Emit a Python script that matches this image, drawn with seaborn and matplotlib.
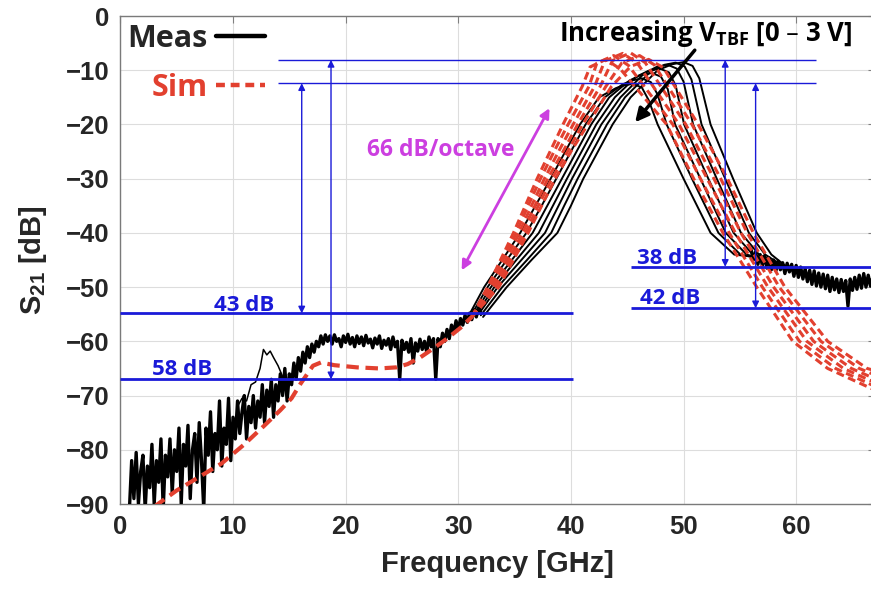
import numpy as np
import pandas as pd
import matplotlib
matplotlib.use("Agg")
import matplotlib.pyplot as plt
import seaborn as sns
from matplotlib.lines import Line2D

# ---------------- data ----------------
# shared noisy measured band, 0.8 .. 32 GHz every 0.2 GHz
meas_low_freq = np.round(np.arange(0.8, 32.01, 0.2), 2)
meas_low_db = [
    -91, -82, -89, -80.5, -90, -84, -81, -91, -83, -87,
    -79, -90, -82, -86, -78, -91, -81, -85, -78, -88,
    -80, -84, -76, -90, -79, -83, -75.5, -89, -80, -77,
    -86, -75, -82, -91, -76, -81, -73, -84, -77, -80,
    -71, -83, -76, -79, -70.5, -82, -74, -78, -71, -77,
    -73, -70, -78, -72, -75, -70, -76, -71, -74, -68,
    -75, -69, -72, -67, -74, -68, -71, -66, -70, -65,
    -71, -66, -68, -64, -67, -63, -65.5, -62, -64, -61,
    -63, -60.5, -62, -60, -61, -59, -60.5, -58.8, -60, -59,
    -60.5, -58.8, -60, -59.5, -61, -59, -60.2, -58.7, -60.5, -59.3,
    -61, -59, -60.4, -59.2, -60.8, -58.9, -60.3, -59.6, -61.2, -59.4,
    -60.5, -59, -61.3, -59.8, -60.7, -59.5, -61.5, -59.2, -61, -60,
    -67, -59.8, -61.5, -60.2, -62, -59.5, -64, -60.3, -61.8, -59.6,
    -61.5, -60, -62, -59.2, -61, -59.5, -67, -59.5, -61, -58.5,
    -60, -57.8, -59.5, -57, -58.5, -56.2, -57.8, -55.8, -57, -55.2,
    -56.5, -54.8, -56, -54.2, -55.5, -53.8, -54.8,
]
# one measured trace with a bump near 13 GHz
bump_freq = [10.4, 10.8, 11.2, 11.6, 12.0, 12.4, 12.7, 13.0, 13.3, 13.6, 14.0, 14.4, 14.8, 15.2]
bump_db = [-72, -70.5, -71, -68, -67.5, -65, -61.5, -62.5, -61.8, -63, -64.5, -66.5, -68.5, -66]

# shared noisy measured tail, 56 .. 67 GHz every 0.2 GHz
meas_tail_freq = np.round(np.arange(56.0, 67.01, 0.2), 2)
meas_tail_db = [
    -43, -45, -43.5, -45.8, -44, -46, -44.2, -46.5, -44.6, -46.8,
    -45, -47, -45.2, -46.8, -45.5, -47.5, -45.6, -47.2, -45.8, -48,
    -46, -48.2, -46.3, -48.5, -46.6, -49, -46.9, -49.5, -47, -49.8,
    -47.4, -50, -47.6, -50.3, -47.8, -50.8, -48.2, -50.5, -48.5, -51,
    -48.6, -50.8, -48.8, -53.5, -48.5, -50.6, -48.2, -50.4, -47.8, -50.2,
    -47.5, -50, -47.8, -49.8, -48, -50,
]

# measured curves (V_TBF 0 .. 3 V), band-pass region
meas_freq = [
    [32.2, 34.3, 36.5, 38.8, 40.0, 41.1, 42.4, 43.7, 45.3, 47.7, 49.0, 50.0, 50.8, 51.4, 52.4, 54.4, 56.5, 57.8, 59.0],
    [32.0, 33.9, 36.1, 38.25, 39.4, 40.6, 41.9, 43.2, 44.8, 47.1, 48.3, 49.3, 50.1, 50.7, 51.6, 53.7, 55.8, 57.25, 58.6],
    [31.8, 33.5, 35.6, 37.7, 38.9, 40.1, 41.4, 42.7, 44.4, 46.5, 47.6, 48.6, 49.4, 50.0, 50.85, 52.95, 55.1, 56.7, 58.2],
    [31.6, 33.2, 35.15, 37.15, 38.4, 39.65, 40.95, 42.25, 43.9, 45.8, 46.9, 47.9, 48.7, 49.3, 50.05, 52.2, 54.45, 56.15, 57.8],
    [31.4, 32.9, 34.75, 36.6, 37.9, 39.2, 40.5, 41.8, 43.4, 45.2, 46.2, 47.2, 48.0, 48.6, 49.25, 51.5, 53.75, 55.6, 57.4],
    [31.2, 32.6, 34.3, 36.05, 37.4, 38.7, 40.0, 41.3, 43.0, 44.6, 45.4, 46.3, 47.1, 47.7, 48.5, 50.75, 53.1, 55.05, 57.0],
    [31.0, 32.3, 33.9, 35.5, 36.85, 38.2, 39.5, 40.8, 42.5, 44.0, 44.7, 45.5, 46.3, 46.9, 47.7, 50.0, 52.4, 54.5, 56.6],
]
meas_db = [
    [-55.5, -50, -45, -40, -35, -30, -25, -20, -15, -10.0, -8.9, -8.5, -9.2, -11.5, -20, -30, -40, -44, -46],
    [-55.2, -50, -45, -40, -35, -30, -25, -20, -15, -10.2, -9.0, -8.6, -9.3, -11.7, -20, -30, -40, -44, -45.8],
    [-55, -50, -45, -40, -35, -30, -25, -20, -15, -10.6, -9.4, -9.0, -9.7, -12.1, -20, -30, -40, -44, -45.5],
    [-55, -50, -45, -40, -35, -30, -25, -20, -15, -11.2, -10.1, -9.7, -10.4, -12.8, -20, -30, -40, -44, -45.2],
    [-55, -50, -45, -40, -35, -30, -25, -20, -15, -11.9, -10.9, -10.5, -11.2, -13.5, -20, -30, -40, -44, -45],
    [-55, -50, -45, -40, -35, -30, -25, -20, -15, -12.6, -11.9, -11.5, -12.2, -14.5, -20, -30, -40, -44, -44.8],
    [-55, -50, -45, -40, -35, -30, -25, -20, -15, -13.3, -12.8, -12.5, -13.2, -15.5, -20, -30, -40, -44, -44.5],
]

# simulated: shared low-frequency part
sim_low_freq = [3.0, 5.0, 7.0, 9.0, 11.0, 12.8, 14.2, 15.2, 16.0, 17.1, 17.8, 19.0, 21.0, 23.0,
                24.5, 25.5, 26.6, 27.8, 29.0, 30.2, 31.2]
sim_low_db = [-90.5, -87.5, -85, -82.5, -79, -75.5, -72.7, -70.5, -67.8, -64.5, -63.9, -64.4, -64.8, -65,
              -64.8, -64.2, -63, -61.3, -59.5, -57.5, -55.5]
# simulated curves, band-pass region
sim_freq = [
    [31.2, 33.6, 34.9, 36.2, 37.4, 38.6, 40.0, 41.5, 43.6, 45.3, 46.9, 48.2, 51.3, 53.9, 56.2, 59.0, 62.8, 66.3, 67.0],
    [31.2, 33.4, 34.7, 35.95, 37.1, 38.3, 39.7, 41.05, 43.1, 44.5, 46.1, 47.4, 50.75, 53.3, 55.65, 58.5, 62.2, 65.6, 67.0],
    [31.2, 33.2, 34.45, 35.7, 36.8, 37.95, 39.3, 40.6, 42.6, 43.7, 45.3, 46.6, 50.2, 52.7, 55.1, 58.0, 61.55, 64.9, 67.0],
    [31.2, 33.0, 34.2, 35.4, 36.5, 37.65, 38.9, 40.2, 42.1, 43.0, 44.6, 45.9, 49.6, 52.1, 54.6, 57.5, 60.95, 64.2, 67.0],
    [31.2, 32.8, 33.95, 35.15, 36.2, 37.3, 38.5, 39.75, 41.6, 42.3, 43.8, 45.1, 49.05, 51.5, 54.05, 57.0, 60.3, 63.5, 67.0],
    [31.2, 32.6, 33.75, 34.9, 35.95, 37.0, 38.15, 39.3, 41.0, 41.7, 43.1, 44.4, 48.5, 50.9, 53.5, 56.5, 59.7, 62.8, 67.0],
]
sim_db = [
    [-55.5, -50, -45, -40, -35, -30, -25, -20, -13, -9.3, -8.0, -9.5, -20, -30, -40, -50, -60, -65, -65.4],
    [-55.5, -50, -45, -40, -35, -30, -25, -20, -13, -8.7, -7.3, -9.0, -20, -30, -40, -50, -60, -65, -66.2],
    [-55.5, -50, -45, -40, -35, -30, -25, -20, -13, -8.2, -6.8, -8.6, -20, -30, -40, -50, -60, -65, -66.9],
    [-55.5, -50, -45, -40, -35, -30, -25, -20, -13, -8.3, -6.9, -8.7, -20, -30, -40, -50, -60, -65, -67.6],
    [-55.5, -50, -45, -40, -35, -30, -25, -20, -13, -8.7, -7.3, -9.1, -20, -30, -40, -50, -60, -65, -68.3],
    [-55.5, -50, -45, -40, -35, -30, -25, -20, -13, -9.4, -8.0, -9.8, -20, -30, -40, -50, -60, -65, -69.0],
]

# blue reference levels
ref_levels_y = [-8.1, -12.4, -54.85, -67.0, -46.25, -53.9]
ref_levels_x0 = [14.0, 14.0, 0.0, 0.0, 45.3, 45.3]
ref_levels_x1 = [61.8, 61.8, 40.2, 40.2, 67.0, 67.0]
ref_levels_w = [1.0, 1.0, 2.0, 2.0, 2.0, 2.0]
# rejection arrows
rej_x = [16.1, 18.7, 53.7, 56.4]
rej_top = [-12.4, -8.1, -8.1, -12.4]
rej_bot = [-54.85, -67.0, -46.25, -53.9]
rej_labels = ["43 dB", "58 dB", "38 dB", "42 dB"]
rej_label_x = [11.0, 5.5, 48.5, 48.85]
rej_label_y = [-54.4, -66.3, -45.8, -53.1]

# ---------------- style ----------------
sns.set_style("white")
plt.rcParams['font.family'] = ['Liberation Sans', 'DejaVu Sans']
plt.rcParams['font.weight'] = 'bold'
plt.rcParams['axes.labelweight'] = 'bold'

BLUE = '#1a1ad8'
RED = '#e2402f'
MAG = '#cc3fe0'
ANN = ['Open Sans', 'DejaVu Sans']

W, H = 871, 595
fig = plt.figure(figsize=(W / 100, H / 100), dpi=100)
ax = fig.add_axes([120.4 / W, 1 - 504 / H, (875 - 120.4) / W, (504 - 16) / H])

# measured
sns.lineplot(x=meas_low_freq, y=meas_low_db, ax=ax, color='k', linewidth=2.4,
             estimator=None, sort=False, zorder=3)
sns.lineplot(x=bump_freq, y=bump_db, ax=ax, color='k', linewidth=1.1,
             estimator=None, sort=False, zorder=3)
for f, d in zip(meas_freq, meas_db):
    sns.lineplot(x=f, y=d, ax=ax, color='k', linewidth=1.4, estimator=None, sort=False, zorder=3)
sns.lineplot(x=meas_tail_freq, y=meas_tail_db, ax=ax, color='k', linewidth=2.4,
             estimator=None, sort=False, zorder=3)

# simulated
sns.lineplot(x=sim_low_freq, y=sim_low_db, ax=ax, color=RED, linewidth=3.0,
             linestyle=(0, (3.0, 1.6)), estimator=None, sort=False, zorder=4)
for f, d in zip(sim_freq, sim_db):
    sns.lineplot(x=f, y=d, ax=ax, color=RED, linewidth=2.2,
                 linestyle=(0, (2.6, 1.5)), estimator=None, sort=False, zorder=4)

# blue level lines
for y, x0, x1, w in zip(ref_levels_y, ref_levels_x0, ref_levels_x1, ref_levels_w):
    ax.hlines(y, x0, x1, color=BLUE, linewidth=w, zorder=6)
for x, yt, yb in zip(rej_x, rej_top, rej_bot):
    ax.annotate('', xy=(x, yt), xytext=(x, yb),
                arrowprops=dict(arrowstyle='<|-|>', color=BLUE, lw=1.0,
                                mutation_scale=10, shrinkA=0, shrinkB=0), zorder=6)
for lab, lx, ly in zip(rej_labels, rej_label_x, rej_label_y):
    ax.text(lx, ly, lab, color=BLUE, fontsize=16, fontweight='bold', family=ANN,
            ha='center', va='baseline', zorder=7)

# slope annotation
ax.annotate('', xy=(38.1, -17.0), xytext=(30.3, -46.9),
            arrowprops=dict(arrowstyle='<|-|>', color=MAG, lw=2.0,
                            mutation_scale=14, shrinkA=0, shrinkB=0), zorder=6)
ax.text(28.4, -24.7, '66 dB/octave', color=MAG, fontsize=16.5, fontweight='bold',
        family=ANN, ha='center', va='center', zorder=7)

# tuning annotation
ax.annotate('', xy=(45.7, -19.6), xytext=(51.0, -6.3),
            arrowprops=dict(arrowstyle='-|>', color='k', lw=2.5,
                            mutation_scale=20, shrinkA=0, shrinkB=0), zorder=7)
ax.text(52.0, -3.3, 'Increasing V$_{\\mathregular{TBF}}$ [0 – 3 V]', color='k', fontsize=18.5,
        fontweight='bold', family=ANN, ha='center', va='center', zorder=7)

# legend
handles = [Line2D([], [], color='k', lw=3.2),
           Line2D([], [], color=RED, lw=3.2, linestyle=(0, (2.0, 1.3)))]
leg = ax.legend(handles, ['Meas', 'Sim'], loc='upper left', markerfirst=False, frameon=False,
                prop=dict(family=ANN, weight='bold', size=22),
                handlelength=1.6, handletextpad=0.3, labelspacing=0.62,
                borderpad=0, borderaxespad=0,
                bbox_to_anchor=(127 / W, 1 - 24 / H), bbox_transform=fig.transFigure)
leg.get_texts()[1].set_color(RED)
leg.set_zorder(8)

# axes
ax.set_xlim(0, 67)
ax.set_ylim(-90, 0)
ax.set_xticks(range(0, 61, 10))
ax.set_yticks(range(-90, 1, 10))
ax.grid(True, color='#dddddd', linewidth=0.8)
ax.set_axisbelow(True)
ax.tick_params(direction='in', length=5, width=0.8, color='#808080', top=True, right=True,
               labelsize=18.5, pad=8)
for lab in ax.get_xticklabels() + ax.get_yticklabels():
    lab.set_fontweight('bold')
for s in ax.spines.values():
    s.set_color('#7a7a7a')
    s.set_linewidth(1.0)
ax.set_xlabel('Frequency [GHz]', fontsize=21, fontweight='bold', labelpad=8)
ax.set_ylabel('S$_{\\mathregular{21}}$ [dB]', fontsize=21, fontweight='bold', labelpad=12)

fig.savefig('out.png', dpi=100)
